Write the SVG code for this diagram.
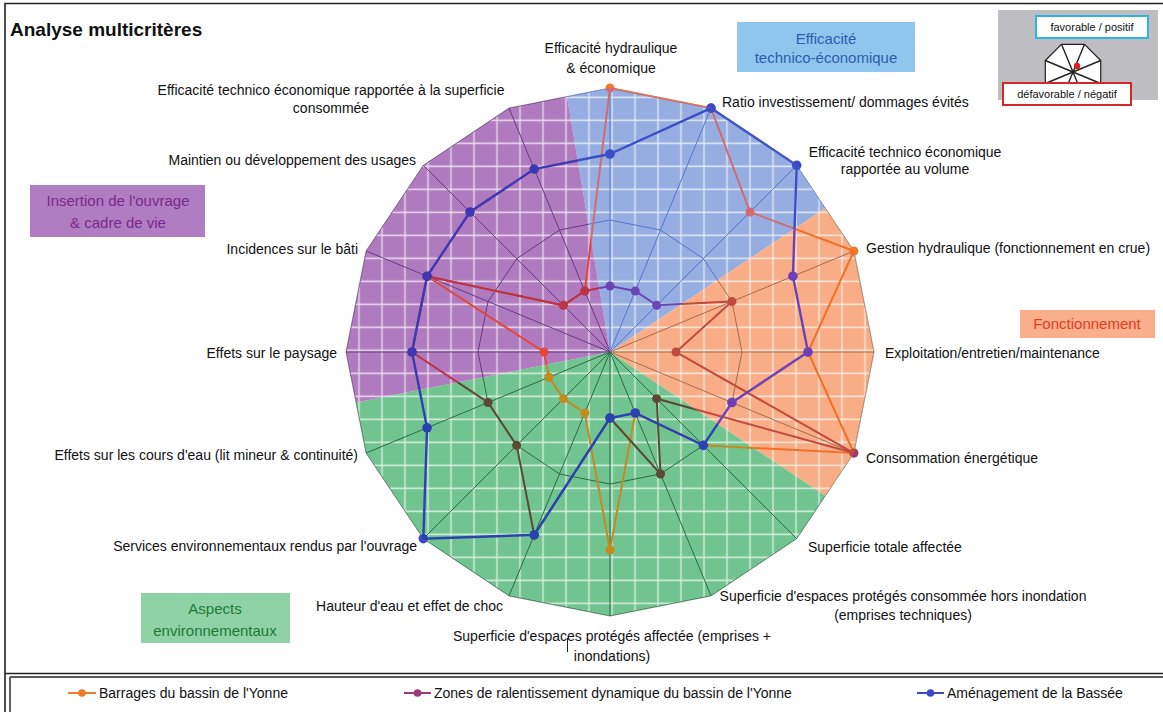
<svg xmlns="http://www.w3.org/2000/svg" xmlns:xlink="http://www.w3.org/1999/xlink" width="1163" height="712" viewBox="0 0 1163 712">
<style>
text{font-family:"Liberation Sans",Arial,sans-serif;font-size:14px;fill:#111}
.lbl{font-size:14px}
.ttl{font-size:19px;font-weight:bold}
.cat{font-size:15px}
.sp{fill:none;stroke:var(--g);stroke-width:1}
.s1{fill:none;stroke:var(--o);stroke-width:2}
.s2{fill:none;stroke:var(--p);stroke-width:2}
.s3{fill:none;stroke:var(--b);stroke-width:2.4}
.d1{fill:var(--o)}
.d2{fill:var(--p)}
.d3{fill:var(--b)}
.small{font-size:11px}
</style>
<defs>
<pattern id="gp" width="23" height="23" patternUnits="userSpaceOnUse" x="2.5" y="-6.2">
<path d="M0 11.5H23M11.5 0V23" stroke="#fff" stroke-opacity="0.75" stroke-width="1.3" fill="none"/>
</pattern>
<clipPath id="cOut"><path clip-rule="evenodd" d="M0 0H1163V712H0Z M610,88 711.03,108.1 796.68,165.32 853.9,250.97 874,352 853.9,453.03 796.68,538.68 711.03,595.9 610,616 508.97,595.9 423.32,538.68 366.1,453.03 346,352 366.1,250.97 423.32,165.32 508.97,108.1Z"/></clipPath>
<clipPath id="cBlue"><polygon points="610,352 567,96.55 610,88 711.03,108.1 796.68,165.32 825.29,208.15"/></clipPath>
<clipPath id="cOrange"><polygon points="610,352 825.29,208.15 853.9,250.97 874,352 853.9,453.03 825.29,495.86"/></clipPath>
<clipPath id="cGreen"><polygon points="610,352 825.29,495.86 796.68,538.68 711.03,595.9 610,616 508.97,595.9 423.32,538.68 366.1,453.03 356.05,402.52"/></clipPath>
<clipPath id="cPurple"><polygon points="610,352 356.05,402.52 346,352 366.1,250.97 423.32,165.32 508.97,108.1 567,96.55"/></clipPath>
<g id="chart">
<path class="sp" d="M610 352L610 88M610 352L711.03 108.1M610 352L796.68 165.32M610 352L853.9 250.97M610 352L874 352M610 352L853.9 453.03M610 352L796.68 538.68M610 352L711.03 595.9M610 352L610 616M610 352L508.97 595.9M610 352L423.32 538.68M610 352L366.1 453.03M610 352L346 352M610 352L366.1 250.97M610 352L423.32 165.32M610 352L508.97 108.1"/>
<polygon class="sp" points="610,220 660.51,230.05 703.34,258.66 731.95,301.49 742,352 731.95,402.51 703.34,445.34 660.51,473.95 610,484 559.49,473.95 516.66,445.34 488.05,402.51 478,352 488.05,301.49 516.66,258.66 559.49,230.05"/>
<polygon class="sp" points="610,88 711.03,108.1 796.68,165.32 853.9,250.97 874,352 853.9,453.03 796.68,538.68 711.03,595.9 610,616 508.97,595.9 423.32,538.68 366.1,453.03 346,352 366.1,250.97 423.32,165.32 508.97,108.1"/>
<polygon class="s1" points="610,88 711.03,108.1 750.01,211.99 853.9,250.97 808,352 853.9,453.03 703.34,445.34 635.26,412.98 610,550 584.74,412.98 563.33,398.67 549.02,377.26 544,352 427.07,276.23 563.33,305.33 584.74,291.02"/>
<g class="d1">
<circle cx="610" cy="88" r="4.5"/><circle cx="711.03" cy="108.1" r="4.5"/><circle cx="750.01" cy="211.99" r="4.5"/><circle cx="853.9" cy="250.97" r="4.5"/><circle cx="808" cy="352" r="4.5"/><circle cx="853.9" cy="453.03" r="4.5"/><circle cx="703.34" cy="445.34" r="4.5"/><circle cx="635.26" cy="412.98" r="4.5"/><circle cx="610" cy="550" r="4.5"/><circle cx="584.74" cy="412.98" r="4.5"/><circle cx="563.33" cy="398.67" r="4.5"/><circle cx="549.02" cy="377.26" r="4.5"/><circle cx="544" cy="352" r="4.5"/><circle cx="427.07" cy="276.23" r="4.5"/><circle cx="563.33" cy="305.33" r="4.5"/><circle cx="584.74" cy="291.02" r="4.5"/>
</g>
<polygon class="s2" points="610,286 635.26,291.02 656.67,305.33 731.95,301.49 676,352 853.9,453.03 656.67,398.67 660.51,473.95 610,418 534.23,534.93 516.66,445.34 488.05,402.51 412,352 427.07,276.23 563.33,305.33 584.74,291.02"/>
<g class="d2">
<circle cx="610" cy="286" r="4.5"/><circle cx="635.26" cy="291.02" r="4.5"/><circle cx="656.67" cy="305.33" r="4.5"/><circle cx="731.95" cy="301.49" r="4.5"/><circle cx="676" cy="352" r="4.5"/><circle cx="853.9" cy="453.03" r="4.5"/><circle cx="656.67" cy="398.67" r="4.5"/><circle cx="660.51" cy="473.95" r="4.5"/><circle cx="610" cy="418" r="4.5"/><circle cx="534.23" cy="534.93" r="4.5"/><circle cx="516.66" cy="445.34" r="4.5"/><circle cx="488.05" cy="402.51" r="4.5"/><circle cx="412" cy="352" r="4.5"/><circle cx="427.07" cy="276.23" r="4.5"/><circle cx="563.33" cy="305.33" r="4.5"/><circle cx="584.74" cy="291.02" r="4.5"/>
</g>
<polygon class="s3" points="610,154 711.03,108.1 796.68,165.32 792.93,276.23 808,352 731.95,402.51 703.34,445.34 635.26,412.98 610,418 534.23,534.93 423.32,538.68 427.07,427.77 412,352 427.07,276.23 469.99,211.99 534.23,169.07"/>
<g class="d3">
<circle cx="610" cy="154" r="4.8"/><circle cx="711.03" cy="108.1" r="4.8"/><circle cx="796.68" cy="165.32" r="4.8"/><circle cx="792.93" cy="276.23" r="4.8"/><circle cx="808" cy="352" r="4.8"/><circle cx="731.95" cy="402.51" r="4.8"/><circle cx="703.34" cy="445.34" r="4.8"/><circle cx="635.26" cy="412.98" r="4.8"/><circle cx="610" cy="418" r="4.8"/><circle cx="534.23" cy="534.93" r="4.8"/><circle cx="423.32" cy="538.68" r="4.8"/><circle cx="427.07" cy="427.77" r="4.8"/><circle cx="412" cy="352" r="4.8"/><circle cx="427.07" cy="276.23" r="4.8"/><circle cx="469.99" cy="211.99" r="4.8"/><circle cx="534.23" cy="169.07" r="4.8"/>
</g>
</g>
</defs>
<rect x="0" y="0" width="1163" height="712" fill="#fff"/>
<g id="frame" fill="none" stroke="#222">
<path d="M5 712V3.5H1163" stroke-width="1.6"/>
<path d="M5 673.5H1163M10 677V712M10 677H1163" stroke-width="1.4"/>
</g>
<text class="ttl" x="10" y="36">Analyse multicritères</text>
<g id="sectors">
<polygon points="610,352 567,96.55 610,88 711.03,108.1 796.68,165.32 825.29,208.15" fill="#95ADE0"/>
<polygon points="610,352 825.29,208.15 853.9,250.97 874,352 853.9,453.03 825.29,495.86" fill="#F8AD86"/>
<polygon points="610,352 825.29,495.86 796.68,538.68 711.03,595.9 610,616 508.97,595.9 423.32,538.68 366.1,453.03 356.05,402.52" fill="#71C48F"/>
<polygon points="610,352 356.05,402.52 346,352 366.1,250.97 423.32,165.32 508.97,108.1 567,96.55" fill="#B07BBE"/>
<polygon points="610,88 711.03,108.1 796.68,165.32 853.9,250.97 874,352 853.9,453.03 796.68,538.68 711.03,595.9 610,616 508.97,595.9 423.32,538.68 366.1,453.03 346,352 366.1,250.97 423.32,165.32 508.97,108.1" fill="url(#gp)"/>
</g>
<g id="radar">
<use xlink:href="#chart" href="#chart" clip-path="url(#cOut)" style="--g:#8a8a8a;--o:#f07a2a;--p:#9a3a78;--b:#3c48c2"/>
<use xlink:href="#chart" href="#chart" clip-path="url(#cBlue)" style="--g:#5675cf;--o:#d26c70;--p:#6a46b4;--b:#3a4ec6"/>
<use xlink:href="#chart" href="#chart" clip-path="url(#cOrange)" style="--g:#a46e4c;--o:#f0702a;--p:#c04a3c;--b:#6e40b8"/>
<use xlink:href="#chart" href="#chart" clip-path="url(#cGreen)" style="--g:#2e6a44;--o:#c48a22;--p:#5a4a34;--b:#2a42b2"/>
<use xlink:href="#chart" href="#chart" clip-path="url(#cPurple)" style="--g:#683a82;--o:#e2483a;--p:#b83448;--b:#3e38b0"/>
</g>
<g id="axis-labels" class="lbl">
<text x="611" y="53" text-anchor="middle">Efficacité hydraulique</text>
<text x="611" y="73" text-anchor="middle">&amp; économique</text>
<text x="722" y="107">Ratio investissement/ dommages évités</text>
<text x="905" y="157" text-anchor="middle">Efficacité technico économique</text>
<text x="905" y="174" text-anchor="middle">rapportée au volume</text>
<text x="866" y="253">Gestion hydraulique (fonctionnement en crue)</text>
<text x="885" y="358">Exploitation/entretien/maintenance</text>
<text x="866" y="463">Consommation énergétique</text>
<text x="808" y="552">Superficie totale affectée</text>
<text x="903" y="601" text-anchor="middle">Superficie d'espaces protégés consommée hors inondation</text>
<text x="903" y="620" text-anchor="middle">(emprises techniques)</text>
<text x="612" y="641" text-anchor="middle">Superficie d'espaces protégés affectée (emprises +</text>
<text x="612" y="661" text-anchor="middle">inondations)</text>
<text x="503" y="611" text-anchor="end">Hauteur d'eau et effet de choc</text>
<text x="417" y="551" text-anchor="end">Services environnementaux rendus par l'ouvrage</text>
<text x="358" y="460" text-anchor="end">Effets sur les cours d'eau (lit mineur &amp; continuité)</text>
<text x="337" y="358" text-anchor="end">Effets sur le paysage</text>
<text x="358" y="254" text-anchor="end">Incidences sur le bâti</text>
<text x="416" y="165" text-anchor="end">Maintien ou développement des usages</text>
<text x="331" y="95" text-anchor="middle">Efficacité technico économique rapportée à la superficie</text>
<text x="331" y="113" text-anchor="middle">consommée</text>
</g>
<line x1="567.5" y1="638" x2="567.5" y2="652" stroke="#222" stroke-width="1"/>
<g id="cat-efficacite">
<rect x="737" y="22" width="178" height="50" fill="#8EC6EE"/>
<text class="cat" x="826" y="44" text-anchor="middle" style="fill:#2E5DAE">Efficacité</text>
<text class="cat" x="826" y="63" text-anchor="middle" style="fill:#2E5DAE">technico-économique</text>
</g>
<g id="cat-fonctionnement">
<rect x="1020" y="310" width="135" height="28" fill="#F9AF8C"/>
<text class="cat" x="1087" y="329" text-anchor="middle" style="fill:#E43C1E">Fonctionnement</text>
</g>
<g id="cat-insertion">
<rect x="30" y="185" width="175" height="52" fill="#B07CC2"/>
<text class="cat" x="118" y="206" text-anchor="middle" style="fill:#7A2A8C">Insertion de l'ouvrage</text>
<text class="cat" x="118" y="228" text-anchor="middle" style="fill:#7A2A8C">&amp; cadre de vie</text>
</g>
<g id="cat-environnement">
<rect x="141" y="593" width="149" height="50" fill="#8FD2A5"/>
<text class="cat" x="215" y="614" text-anchor="middle" style="fill:#1E7A3C">Aspects</text>
<text class="cat" x="215" y="636" text-anchor="middle" style="fill:#1E7A3C">environnementaux</text>
</g>
<g id="key">
<rect x="998" y="10" width="160" height="90" fill="#BEBEC2"/>
<polygon points="1061.5,44.3 1084.5,44.3 1100.7,60.5 1100.7,83.5 1084.5,99.7 1061.5,99.7 1045.3,83.5 1045.3,60.5" fill="#fff" stroke="#222" stroke-width="1.2"/>
<path d="M1073 72L1061.5 44.3M1073 72L1084.5 44.3M1073 72L1100.7 60.5M1073 72L1100.7 83.5M1073 72L1045.3 60.5M1073 72L1045.3 83.5M1073 72L1084.5 99.7M1073 72L1061.5 99.7" stroke="#222" stroke-width="1.4" fill="none"/>
<circle cx="1077" cy="66" r="3.2" fill="#E02020"/>
<rect x="1036" y="16" width="112" height="22" fill="#fff" stroke="#2BB5DC" stroke-width="2"/>
<text class="small" x="1092" y="31" text-anchor="middle">favorable / positif</text>
<rect x="1003" y="83" width="128" height="22" fill="#fff" stroke="#D42828" stroke-width="2"/>
<text class="small" x="1067" y="98" text-anchor="middle">défavorable / négatif</text>
</g>
<g id="legend">
<line x1="68" y1="693" x2="96" y2="693" stroke="#F07A2A" stroke-width="2"/>
<circle cx="82" cy="693" r="3.8" fill="#F07A2A"/>
<text x="99" y="698">Barrages du bassin de l'Yonne</text>
<line x1="404" y1="693" x2="431" y2="693" stroke="#9A3A78" stroke-width="2"/>
<circle cx="417.5" cy="693" r="3.8" fill="#9A3A78"/>
<text x="434" y="698">Zones de ralentissement dynamique du bassin de l'Yonne</text>
<line x1="917" y1="693" x2="944" y2="693" stroke="#3C48C2" stroke-width="2"/>
<circle cx="930.5" cy="693" r="3.8" fill="#3C48C2"/>
<text x="947" y="698">Aménagement de la Bassée</text>
</g>
</svg>
